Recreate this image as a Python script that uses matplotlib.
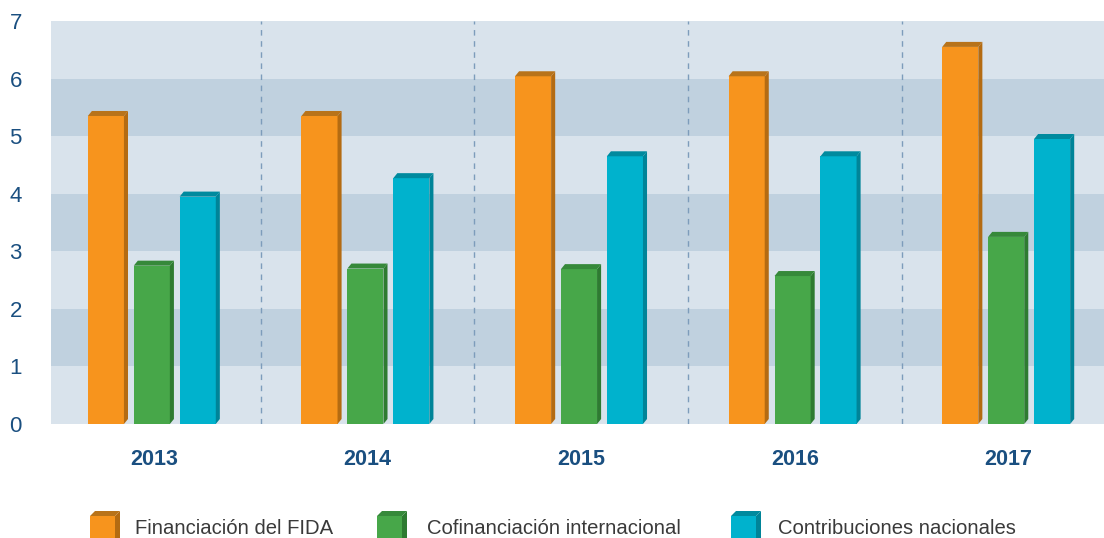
import numpy as np
import matplotlib.pyplot as plt
from matplotlib.patches import Polygon, Rectangle

plt.rcParams['font.family'] = ['Liberation Sans', 'DejaVu Sans']

# datos (millones)
years = ['2013', '2014', '2015', '2016', '2017']
fida = [5.35, 5.35, 6.04, 6.04, 6.55]
cofin = [2.75, 2.70, 2.69, 2.57, 3.25]
nacional = [3.95, 4.27, 4.65, 4.65, 4.95]
series_labels = ['Financiación del FIDA', 'Cofinanciación internacional', 'Contribuciones nacionales']

# colores: frente, lado, tapa
COLORS = [
    ('#f7941d', '#b46b12', '#b8731a'),
    ('#47a749', '#2e7b31', '#36893a'),
    ('#00b2cd', '#008498', '#008a9e'),
]
BAND_LIGHT = '#d9e3ec'
BAND_DARK = '#c0d1df'
TEXT_BLUE = '#1a4f80'

W, H = 1104, 538
fig = plt.figure(figsize=(W / 100, H / 100), dpi=100)
ax = fig.add_axes([51 / W, (H - 424) / H, 1053 / W, 403 / H])

x = np.arange(len(years))
bar_w = 0.169
step = 0.215
dx = 0.019   # profundidad en x
dy = 0.087   # profundidad en y

# bandas de fondo
for k in range(7):
    ax.axhspan(k, k + 1, color=BAND_DARK if k % 2 == 1 else BAND_LIGHT, zorder=0, lw=0)

# separadores
for k in range(len(years) - 1):
    ax.axvline(k + 0.5 + 0.01, color='#7d9cbb', lw=1, ls=(0, (4, 4)), zorder=1)

for s, vals in enumerate([fida, cofin, nacional]):
    front, side, top = COLORS[s]
    xs = x + (s - 1) * step
    ax.bar(xs, vals, width=bar_w, color=front, zorder=3, lw=0)
    for xc, v in zip(xs, vals):
        x0, x1 = xc - bar_w / 2, xc + bar_w / 2
        ax.add_patch(Polygon([(x1, 0), (x1 + dx, dy), (x1 + dx, v + dy), (x1, v)],
                             closed=True, fc=side, lw=0, zorder=3))
        ax.add_patch(Polygon([(x0, v), (x0 + dx, v + dy), (x1 + dx, v + dy), (x1, v)],
                             closed=True, fc=top, lw=0, zorder=3))

ax.set_xlim(-0.472, 4.458)
ax.set_ylim(0, 7)
ax.set_yticks(range(8))
ax.set_xticks(x + 0.01)
ax.set_xticklabels(years, fontweight='bold', fontsize=15.5, color=TEXT_BLUE)
ax.tick_params(axis='y', length=0, pad=21, labelsize=16, labelcolor=TEXT_BLUE)
ax.tick_params(axis='x', length=0, pad=18)
for sp in ax.spines.values():
    sp.set_visible(False)

# leyenda manual con cajitas 3D
lax = fig.add_axes([0, 0, 1, 1])
lax.set_xlim(0, W)
lax.set_ylim(H, 0)
lax.axis('off')
icon_x = [90, 377, 731]
text_x = [135, 427, 778]
for s, lab in enumerate(series_labels):
    front, side, top = COLORS[s]
    ix = icon_x[s]
    lax.add_patch(Rectangle((ix, 516), 25, 24, fc=front, lw=0))
    lax.add_patch(Polygon([(ix + 25, 516), (ix + 30, 511), (ix + 30, 540), (ix + 25, 540)],
                          closed=True, fc=side, lw=0))
    lax.add_patch(Polygon([(ix, 516), (ix + 5, 511), (ix + 30, 511), (ix + 25, 516)],
                          closed=True, fc=top, lw=0))
    lax.text(text_x[s], 528, lab, fontsize=14.6, color='#3a3a3a', va='center', ha='left')

fig.savefig('out.png', dpi=100)
